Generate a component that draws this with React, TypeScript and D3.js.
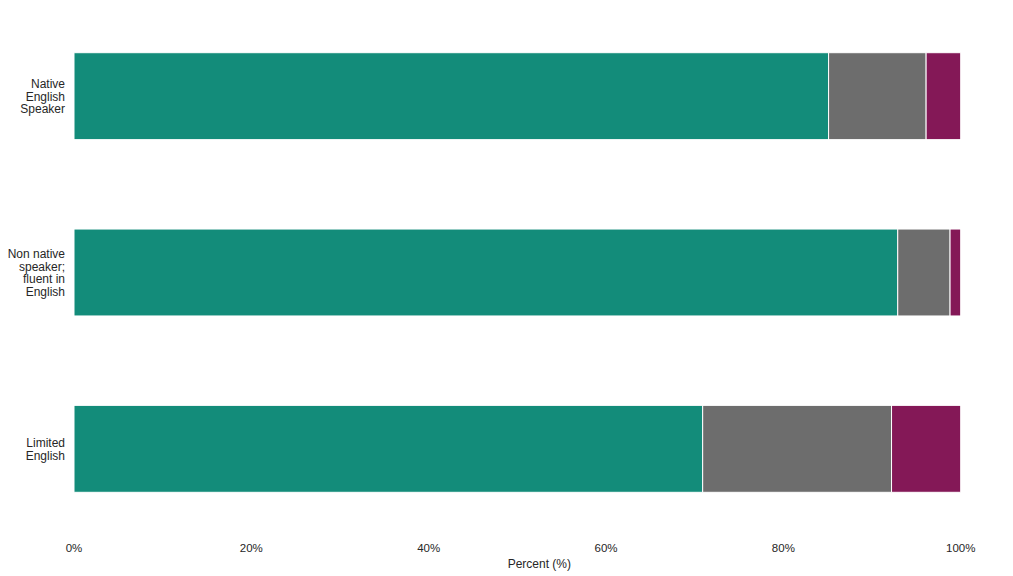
import React from "react";
import * as d3 from "d3";

const categories = ["Native\nEnglish\nSpeaker", "Non native\nspeaker;\nfluent in\nEnglish", "Limited\nEnglish"];
const seriesNames = ["A", "B", "C"];
const seriesA = [85.1, 92.9, 70.9];
const seriesB = [11.0, 5.9, 21.3];
const seriesC = [3.9, 1.2, 7.8];
const colors = ["#138c7a", "#6d6d6d", "#841857"];
const xTicks = [0, 20, 40, 60, 80, 100];

const W = 1013;
const H = 576;
const margin = { left: 74, right: 1013 - 960.7, top: 8, bottom: 576 - 537 };

export default function App() {
  const x = d3.scaleLinear().domain([0, 100]).range([margin.left, W - margin.right]);
  const y = d3
    .scaleBand<number>()
    .domain(d3.range(categories.length))
    .range([margin.top, H - margin.bottom])
    .paddingInner(0.507)
    .paddingOuter(0.2535);
  const rows = categories.map((c, i) => ({ c, a: seriesA[i], b: seriesB[i], cc: seriesC[i] }));
  const stack = d3.stack<any>().keys(["a", "b", "cc"])(rows);
  const font = "'Liberation Sans', Arial, sans-serif";
  return (
    <svg
      width={W}
      height={H}
      style={{ position: "fixed", left: 0, top: 0, background: "#fff" }}
      fontFamily={font}
    >
      {stack.map((layer, si) => (
        <g key={seriesNames[si]} fill={colors[si]}>
          {layer.map((d, i) => (
            <rect
              key={i}
              x={x(d[0])}
              y={y(i)}
              width={x(d[1]) - x(d[0])}
              height={y.bandwidth()}
              stroke="#ffffff"
              strokeWidth={1}
            />
          ))}
        </g>
      ))}
      {categories.map((c, i) => {
        const lines = c.split("\n");
        const cy = (y(i) as number) + y.bandwidth() / 2;
        const lh = 12.5;
        return (
          <text key={i} x={65} textAnchor="end" fontSize={12} fill="#262626">
            {lines.map((l, j) => (
              <tspan key={j} x={65} y={cy + (j - (lines.length - 1) / 2) * lh + 4.5}>
                {l}
              </tspan>
            ))}
          </text>
        );
      })}
      {xTicks.map((t) => (
        <text key={t} x={x(t)} y={551.5} textAnchor="middle" fontSize={11.5} fill="#262626">
          {t}%
        </text>
      ))}
      <text x={(x(0) + x(100)) / 2 + 22} y={567.5} textAnchor="middle" fontSize={12} fill="#262626">
        Percent (%)
      </text>
    </svg>
  );
}
